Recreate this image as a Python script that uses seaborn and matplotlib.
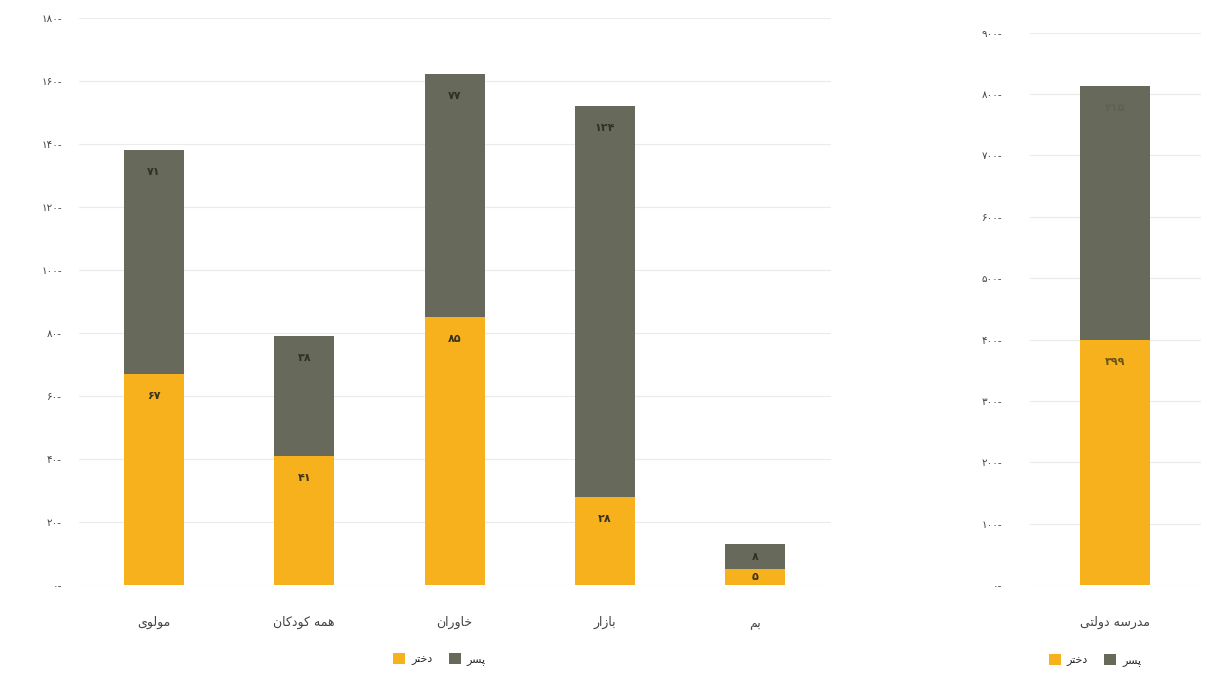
import matplotlib
matplotlib.use("Agg")
import matplotlib.pyplot as plt
import seaborn as sns
import numpy as np
from matplotlib.patches import Patch

# ---------------- data ----------------
categories = ["مولوی", "همه کودکان", "خاوران", "بازار", "بم"]
girls = [67, 41, 85, 28, 5]
boys = [71, 38, 77, 124, 8]
left_ticks = [0, 20, 40, 60, 80, 100, 120, 140, 160, 180]

right_categories = ["مدرسه دولتی"]
right_girls = [399]
right_boys = [415]
right_ticks = [0, 100, 200, 300, 400, 500, 600, 700, 800, 900]

legend_labels = ["دختر", "پسر"]

YELLOW = "#F6B11C"
DARK = "#676A5A"

# ------------- minimal Persian shaping (presentation forms, RTL) -------------
FORMS = {
    "ا": ("\uFE8D", "\uFE8E"),
    "د": ("\uFEA9", "\uFEAA"),
    "ر": ("\uFEAD", "\uFEAE"),
    "ز": ("\uFEAF", "\uFEB0"),
    "و": ("\uFEED", "\uFEEE"),
    "ب": ("\uFE8F", "\uFE90", "\uFE91", "\uFE92"),
    "پ": ("\uFB56", "\uFB57", "\uFB58", "\uFB59"),
    "ت": ("\uFE95", "\uFE96", "\uFE97", "\uFE98"),
    "خ": ("\uFEA5", "\uFEA6", "\uFEA7", "\uFEA8"),
    "س": ("\uFEB1", "\uFEB2", "\uFEB3", "\uFEB4"),
    "ل": ("\uFEDD", "\uFEDE", "\uFEDF", "\uFEE0"),
    "م": ("\uFEE1", "\uFEE2", "\uFEE3", "\uFEE4"),
    "ن": ("\uFEE5", "\uFEE6", "\uFEE7", "\uFEE8"),
    "ه": ("\uFEE9", "\uFEEA", "\uFEEB", "\uFEEC"),
    "ی": ("\uFBFC", "\uFBFD", "\uFBFE", "\uFBFF"),
    "ک": ("\uFB8E", "\uFB8F", "\uFB90", "\uFB91"),
    "گ": ("\uFB92", "\uFB93", "\uFB94", "\uFB95"),
}


def fa(text):
    chars = list(text)
    out = []
    for i, c in enumerate(chars):
        if c not in FORMS:
            out.append(c)
            continue
        prev = chars[i - 1] if i > 0 else None
        nxt = chars[i + 1] if i + 1 < len(chars) else None
        jp = prev in FORMS and len(FORMS[prev]) == 4
        jn = len(FORMS[c]) == 4 and nxt in FORMS
        f = FORMS[c]
        if jp and jn:
            out.append(f[3])
        elif jp:
            out.append(f[1])
        elif jn:
            out.append(f[2])
        else:
            out.append(f[0])
    return "".join(reversed(out))


DIG = str.maketrans("0123456789", "۰۱۲۳۴۵۶۷۸۹")


def fnum(v):
    return str(int(v)).translate(DIG)


# ---------------- plotting ----------------
sns.set_theme(style="white")
plt.rcParams["font.family"] = ["DejaVu Sans"]

fig = plt.figure(figsize=(12.09, 6.82), dpi=100)
axL = fig.add_axes([0.065, 0.142, 0.622, 0.832])
axR = fig.add_axes([0.852, 0.142, 0.141, 0.810])


def draw(ax, cats, g, b, ticks, width, label_colors, ypad):
    totals = [gi + bi for gi, bi in zip(g, b)]
    labels = [fa(c) for c in cats]
    sns.barplot(x=labels, y=totals, color=DARK, width=width, ax=ax,
                saturation=1, linewidth=0, zorder=2)
    sns.barplot(x=labels, y=g, color=YELLOW, width=width, ax=ax,
                saturation=1, linewidth=0, zorder=3)
    ax.set_ylim(ticks[0], ticks[-1])
    ax.set_xlim(-0.5, len(cats) - 0.5)
    ax.set_yticks(ticks)
    ax.set_yticklabels([fnum(t) + "-" for t in ticks], fontsize=7.5, color="#444444")
    ax.yaxis.grid(True, color="#ebebeb", linewidth=0.8, zorder=0)
    ax.xaxis.grid(False)
    for s in ax.spines.values():
        s.set_visible(False)
    ax.tick_params(axis="y", length=0, pad=ypad, left=False)
    ax.tick_params(axis="x", length=0, pad=22, labelsize=9, labelcolor="#444444")
    ax.set_xlabel("")
    ax.set_ylabel("")
    # value labels
    trans = ax.transData
    for i in range(len(cats)):
        segs = [(0, g[i], label_colors[0]), (g[i], totals[i], label_colors[1])]
        for lo, hi, col in segs:
            y0 = trans.transform((0, lo))[1]
            y1 = trans.transform((0, hi))[1]
            hpx = y1 - y0
            if hpx > 44:
                ax.annotate(fnum(hi - lo), xy=(i, hi), xytext=(0, -22 * 72 / 100),
                            textcoords="offset points", ha="center", va="center",
                            fontsize=8, fontweight="bold", color=col, zorder=5)
            else:
                ax.text(i, (lo + hi) / 2, fnum(hi - lo), ha="center", va="center",
                        fontsize=8, fontweight="bold", color=col, zorder=5)


draw(axL, categories, girls, boys, left_ticks, 0.4, ("#3a3320", "#2f3128"), 12)
draw(axR, right_categories, right_girls, right_boys, right_ticks, 0.41,
     ("#6b5418", "#5f6253"), 20)

handles = [Patch(facecolor=YELLOW, edgecolor="none"), Patch(facecolor=DARK, edgecolor="none")]
leg_labels = [fa(t) for t in legend_labels]
axL.legend(handles, leg_labels, loc="center", bbox_to_anchor=(0.48, -0.13),
           ncol=2, frameon=False, fontsize=8, handlelength=1.1, handleheight=1.1,
           columnspacing=1.5, handletextpad=0.5)
axR.legend(handles, leg_labels, loc="center", bbox_to_anchor=(0.38, -0.136),
           ncol=2, frameon=False, fontsize=8, handlelength=1.1, handleheight=1.1,
           columnspacing=1.5, handletextpad=0.5)

fig.savefig("out.png", dpi=100, facecolor="white")
